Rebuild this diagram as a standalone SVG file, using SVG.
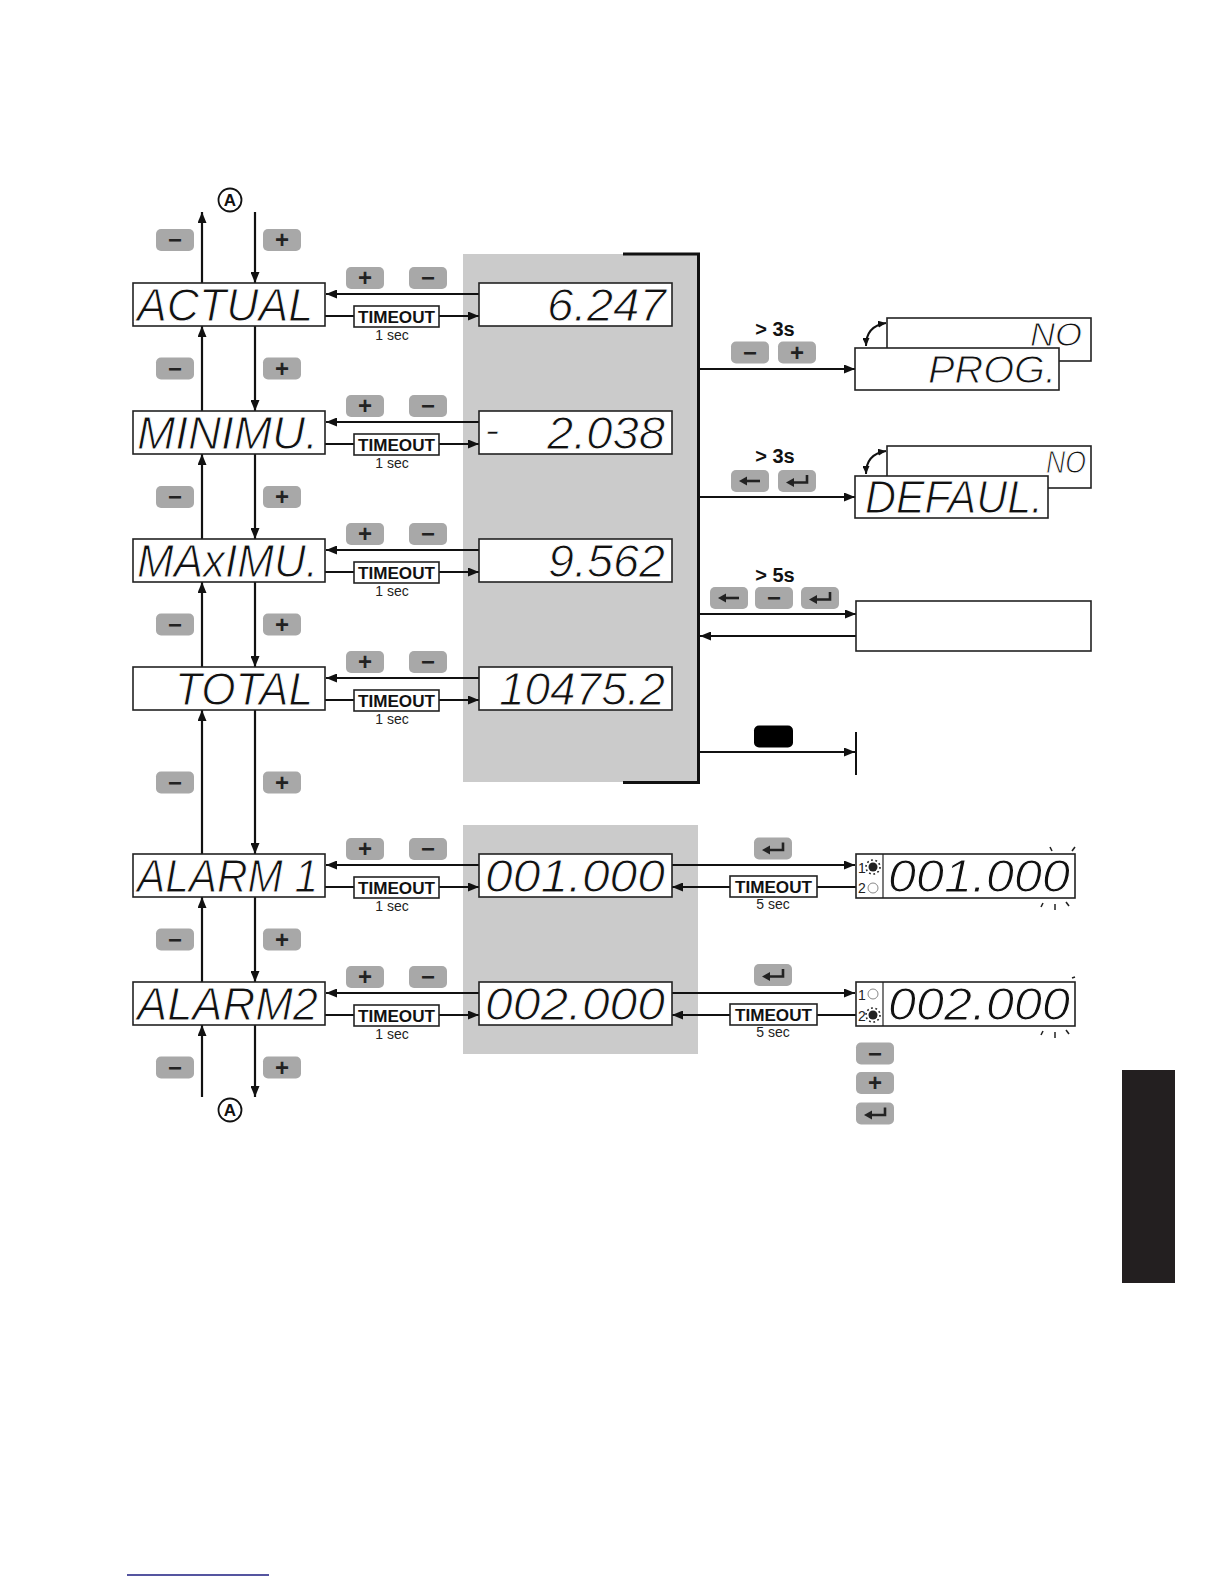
<svg xmlns="http://www.w3.org/2000/svg" xmlns:xlink="http://www.w3.org/1999/xlink" width="1224" height="1584" viewBox="0 0 1224 1584">
<style>
.ln{stroke:#111;stroke-width:2;fill:none}
.vl{stroke:#111;stroke-width:2.2;fill:none}
.box{fill:#fff;stroke:#222;stroke-width:1.6}
.seg{font-family:"Liberation Sans",Arial,sans-serif;font-style:italic;font-size:46px;fill:#111;stroke:#fff;stroke-width:1}
.to{font-family:"Liberation Sans",Arial,sans-serif;font-weight:bold;font-size:17px;text-anchor:middle;fill:#111}
.sec{font-family:"Liberation Sans",Arial,sans-serif;font-size:14px;text-anchor:middle;fill:#222}
.btn{fill:#a8a8a8}
.bt{font-family:"Liberation Sans",Arial,sans-serif;font-weight:bold;font-size:24px;text-anchor:middle;fill:#222}
.t3{font-family:"Liberation Sans",Arial,sans-serif;font-weight:bold;font-size:20px;text-anchor:middle;fill:#111}
.led{font-family:"Liberation Sans",Arial,sans-serif;font-size:14px;fill:#222}
.ca{font-family:"Liberation Sans",Arial,sans-serif;font-weight:bold;font-size:17px;text-anchor:middle;fill:#111}
.tk{stroke:#222;stroke-width:1.5}
</style>
<defs>
<marker id="ah" viewBox="0 0 11 9" refX="11" refY="4.5" markerWidth="11" markerHeight="9" markerUnits="userSpaceOnUse" orient="auto-start-reverse"><path d="M0,0 L11,4.5 L0,9 z" fill="#111"/></marker>
<marker id="ahs" viewBox="0 0 8 7" refX="8" refY="3.5" markerWidth="8" markerHeight="7" markerUnits="userSpaceOnUse" orient="auto-start-reverse"><path d="M0,0 L8,3.5 L0,7 z" fill="#111"/></marker>
<g id="ic-left"><path d="M10,0 H-4" stroke="#222" stroke-width="2.6"/><path d="M-11,0 L-3,-4.5 L-3,4.5 z" fill="#222"/></g>
<g id="ic-enter"><path d="M10,-6 V1.5 H-4" stroke="#222" stroke-width="2.6" fill="none"/><path d="M-11,1.5 L-3,-3 L-3,6 z" fill="#222"/></g>
<g id="led-on"><circle r="4.5" fill="#222"/><circle r="7" fill="none" stroke="#222" stroke-width="1.6" stroke-dasharray="1.8 2.6"/></g>
<g id="led-off"><circle r="5" fill="none" stroke="#888" stroke-width="1"/></g>
</defs>
<rect width="1224" height="1584" fill="#fff"/>

<!-- panels -->
<g id="panels">
<rect x="463" y="254" width="235" height="528" fill="#cbcbcb"/>
<rect x="463" y="825" width="235" height="229" fill="#cbcbcb"/>
<path d="M623,254 H698.5 V782.5 H623" fill="none" stroke="#111" stroke-width="3"/>
</g>

<!-- connectors -->
<g id="connectors">
<line class="vl" x1="202" y1="283" x2="202" y2="212" marker-end="url(#ah)"/>
<line class="vl" x1="255" y1="212" x2="255" y2="283" marker-end="url(#ah)"/>
<line class="vl" x1="202" y1="411" x2="202" y2="326" marker-end="url(#ah)"/>
<line class="vl" x1="255" y1="326" x2="255" y2="411" marker-end="url(#ah)"/>
<line class="vl" x1="202" y1="539" x2="202" y2="454" marker-end="url(#ah)"/>
<line class="vl" x1="255" y1="454" x2="255" y2="539" marker-end="url(#ah)"/>
<line class="vl" x1="202" y1="667" x2="202" y2="582" marker-end="url(#ah)"/>
<line class="vl" x1="255" y1="582" x2="255" y2="667" marker-end="url(#ah)"/>
<line class="vl" x1="202" y1="854" x2="202" y2="710" marker-end="url(#ah)"/>
<line class="vl" x1="255" y1="710" x2="255" y2="854" marker-end="url(#ah)"/>
<line class="vl" x1="202" y1="982" x2="202" y2="897" marker-end="url(#ah)"/>
<line class="vl" x1="255" y1="897" x2="255" y2="982" marker-end="url(#ah)"/>
<line class="vl" x1="202" y1="1097" x2="202" y2="1025" marker-end="url(#ah)"/>
<line class="vl" x1="255" y1="1025" x2="255" y2="1097" marker-end="url(#ah)"/>
<line class="ln" x1="479" y1="294" x2="326" y2="294" marker-end="url(#ah)"/>
<line class="ln" x1="325" y1="316" x2="354" y2="316"/>
<line class="ln" x1="439" y1="316" x2="479" y2="316" marker-end="url(#ah)"/>
<line class="ln" x1="479" y1="422" x2="326" y2="422" marker-end="url(#ah)"/>
<line class="ln" x1="325" y1="444" x2="354" y2="444"/>
<line class="ln" x1="439" y1="444" x2="479" y2="444" marker-end="url(#ah)"/>
<line class="ln" x1="479" y1="550" x2="326" y2="550" marker-end="url(#ah)"/>
<line class="ln" x1="325" y1="572" x2="354" y2="572"/>
<line class="ln" x1="439" y1="572" x2="479" y2="572" marker-end="url(#ah)"/>
<line class="ln" x1="479" y1="678" x2="326" y2="678" marker-end="url(#ah)"/>
<line class="ln" x1="325" y1="700" x2="354" y2="700"/>
<line class="ln" x1="439" y1="700" x2="479" y2="700" marker-end="url(#ah)"/>
<line class="ln" x1="479" y1="865" x2="326" y2="865" marker-end="url(#ah)"/>
<line class="ln" x1="325" y1="887" x2="354" y2="887"/>
<line class="ln" x1="439" y1="887" x2="479" y2="887" marker-end="url(#ah)"/>
<line class="ln" x1="479" y1="993" x2="326" y2="993" marker-end="url(#ah)"/>
<line class="ln" x1="325" y1="1015" x2="354" y2="1015"/>
<line class="ln" x1="439" y1="1015" x2="479" y2="1015" marker-end="url(#ah)"/>
<line class="ln" x1="699" y1="369" x2="855" y2="369" marker-end="url(#ah)"/>
<line class="ln" x1="699" y1="497" x2="855" y2="497" marker-end="url(#ah)"/>
<line class="ln" x1="699" y1="614" x2="856" y2="614" marker-end="url(#ah)"/>
<line class="ln" x1="856" y1="636" x2="700" y2="636" marker-end="url(#ah)"/>
<line class="ln" x1="699" y1="752" x2="855" y2="752" marker-end="url(#ah)"/>
<line x1="856" y1="732" x2="856" y2="775" stroke="#111" stroke-width="2"/>
<path class="ln" d="M866,346 Q866,326 886,323" stroke-width="1.6" marker-start="url(#ahs)" marker-end="url(#ahs)"/>
<path class="ln" d="M866,474 Q866,454 886,451" stroke-width="1.6" marker-start="url(#ahs)" marker-end="url(#ahs)"/>
<line class="ln" x1="672" y1="865" x2="855" y2="865" marker-end="url(#ah)"/>
<line class="ln" x1="856" y1="887" x2="817" y2="887"/>
<line class="ln" x1="730" y1="887" x2="672" y2="887" marker-end="url(#ah)"/>
<line class="ln" x1="672" y1="993" x2="855" y2="993" marker-end="url(#ah)"/>
<line class="ln" x1="856" y1="1015" x2="817" y2="1015"/>
<line class="ln" x1="730" y1="1015" x2="672" y2="1015" marker-end="url(#ah)"/>
</g>

<!-- A markers -->
<g id="a-top"><circle cx="230" cy="200" r="11.5" fill="#fff" stroke="#111" stroke-width="1.8"/><text class="ca" x="230" y="206">A</text></g>
<g id="a-bottom"><circle cx="230" cy="1110" r="11.5" fill="#fff" stroke="#111" stroke-width="1.8"/><text class="ca" x="230" y="1116">A</text></g>

<!-- left column nodes -->
<g id="n-actual"><rect class="box" x="133" y="283" width="192" height="43"/><text class="seg" x="137" y="321" textLength="176" lengthAdjust="spacingAndGlyphs">ACTUAL</text></g>
<g id="n-minimu"><rect class="box" x="133" y="411" width="192" height="43"/><text class="seg" x="137" y="449" textLength="181" lengthAdjust="spacingAndGlyphs">MINIMU.</text></g>
<g id="n-maximu"><rect class="box" x="133" y="539" width="192" height="43"/><text class="seg" x="137" y="577" textLength="181" lengthAdjust="spacingAndGlyphs">MAxIMU.</text></g>
<g id="n-total"><rect class="box" x="133" y="667" width="192" height="43"/><text class="seg" x="175" y="705" textLength="138" lengthAdjust="spacingAndGlyphs">TOTAL</text></g>
<g id="n-alarm1"><rect class="box" x="133" y="854" width="192" height="43"/><text class="seg" x="137" y="892" textLength="181" lengthAdjust="spacingAndGlyphs">ALARM 1</text></g>
<g id="n-alarm2"><rect class="box" x="133" y="982" width="192" height="43"/><text class="seg" x="137" y="1020" textLength="181" lengthAdjust="spacingAndGlyphs">ALARM2</text></g>

<!-- value nodes -->
<g id="v-actual"><rect class="box" x="479" y="283" width="193" height="43"/><text class="seg" x="547" y="321" textLength="119" lengthAdjust="spacingAndGlyphs">6.247</text></g>
<g id="v-minimu"><rect class="box" x="479" y="411" width="193" height="43"/><text class="seg" x="485" y="442" style="font-size:34px;stroke-width:0.5" textLength="14" lengthAdjust="spacingAndGlyphs">-</text><text class="seg" x="547" y="449" textLength="118" lengthAdjust="spacingAndGlyphs">2.038</text></g>
<g id="v-maximu"><rect class="box" x="479" y="539" width="193" height="43"/><text class="seg" x="548" y="577" textLength="117" lengthAdjust="spacingAndGlyphs">9.562</text></g>
<g id="v-total"><rect class="box" x="479" y="667" width="193" height="43"/><text class="seg" x="499" y="705" textLength="166" lengthAdjust="spacingAndGlyphs">10475.2</text></g>
<g id="v-alarm1"><rect class="box" x="479" y="854" width="193" height="43"/><text class="seg" x="485" y="892" textLength="180" lengthAdjust="spacingAndGlyphs">001.000</text></g>
<g id="v-alarm2"><rect class="box" x="479" y="982" width="193" height="43"/><text class="seg" x="485" y="1020" textLength="180" lengthAdjust="spacingAndGlyphs">002.000</text></g>

<!-- timeout labels -->
<g id="to-1"><rect class="box" x="354" y="306" width="85" height="21"/><text class="to" x="396.5" y="322.5" textLength="77" lengthAdjust="spacingAndGlyphs">TIMEOUT</text><text class="sec" x="392" y="340">1 sec</text></g>
<g id="to-2"><rect class="box" x="354" y="434" width="85" height="21"/><text class="to" x="396.5" y="450.5" textLength="77" lengthAdjust="spacingAndGlyphs">TIMEOUT</text><text class="sec" x="392" y="468">1 sec</text></g>
<g id="to-3"><rect class="box" x="354" y="562" width="85" height="21"/><text class="to" x="396.5" y="578.5" textLength="77" lengthAdjust="spacingAndGlyphs">TIMEOUT</text><text class="sec" x="392" y="596">1 sec</text></g>
<g id="to-4"><rect class="box" x="354" y="690" width="85" height="21"/><text class="to" x="396.5" y="706.5" textLength="77" lengthAdjust="spacingAndGlyphs">TIMEOUT</text><text class="sec" x="392" y="724">1 sec</text></g>
<g id="to-5"><rect class="box" x="354" y="877" width="85" height="21"/><text class="to" x="396.5" y="893.5" textLength="77" lengthAdjust="spacingAndGlyphs">TIMEOUT</text><text class="sec" x="392" y="911">1 sec</text></g>
<g id="to-6"><rect class="box" x="354" y="1005" width="85" height="21"/><text class="to" x="396.5" y="1021.5" textLength="77" lengthAdjust="spacingAndGlyphs">TIMEOUT</text><text class="sec" x="392" y="1039">1 sec</text></g>
<g id="to-7"><rect class="box" x="730" y="876" width="87" height="21"/><text class="to" x="773.5" y="892.5" textLength="77" lengthAdjust="spacingAndGlyphs">TIMEOUT</text><text class="sec" x="773" y="909">5 sec</text></g>
<g id="to-8"><rect class="box" x="730" y="1004" width="87" height="21"/><text class="to" x="773.5" y="1020.5" textLength="77" lengthAdjust="spacingAndGlyphs">TIMEOUT</text><text class="sec" x="773" y="1037">5 sec</text></g>

<!-- left column buttons -->
<g id="buttons-left">
<rect class="btn" x="156" y="229" width="38" height="22" rx="5"/><text class="bt" x="175" y="248">−</text>
<rect class="btn" x="263" y="229" width="38" height="22" rx="5"/><text class="bt" x="282" y="248">+</text>
<rect class="btn" x="156" y="357.5" width="38" height="22" rx="5"/><text class="bt" x="175" y="376.5">−</text>
<rect class="btn" x="263" y="357.5" width="38" height="22" rx="5"/><text class="bt" x="282" y="376.5">+</text>
<rect class="btn" x="156" y="486" width="38" height="22" rx="5"/><text class="bt" x="175" y="505">−</text>
<rect class="btn" x="263" y="486" width="38" height="22" rx="5"/><text class="bt" x="282" y="505">+</text>
<rect class="btn" x="156" y="613.5" width="38" height="22" rx="5"/><text class="bt" x="175" y="632.5">−</text>
<rect class="btn" x="263" y="613.5" width="38" height="22" rx="5"/><text class="bt" x="282" y="632.5">+</text>
<rect class="btn" x="156" y="771.5" width="38" height="22" rx="5"/><text class="bt" x="175" y="790.5">−</text>
<rect class="btn" x="263" y="771.5" width="38" height="22" rx="5"/><text class="bt" x="282" y="790.5">+</text>
<rect class="btn" x="156" y="928.5" width="38" height="22" rx="5"/><text class="bt" x="175" y="947.5">−</text>
<rect class="btn" x="263" y="928.5" width="38" height="22" rx="5"/><text class="bt" x="282" y="947.5">+</text>
<rect class="btn" x="156" y="1056.5" width="38" height="22" rx="5"/><text class="bt" x="175" y="1075.5">−</text>
<rect class="btn" x="263" y="1056.5" width="38" height="22" rx="5"/><text class="bt" x="282" y="1075.5">+</text>
</g>

<!-- row buttons -->
<g id="buttons-rows">
<rect class="btn" x="346" y="267" width="38" height="22" rx="5"/><text class="bt" x="365" y="286">+</text>
<rect class="btn" x="409" y="267" width="38" height="22" rx="5"/><text class="bt" x="428" y="286">−</text>
<rect class="btn" x="346" y="395" width="38" height="22" rx="5"/><text class="bt" x="365" y="414">+</text>
<rect class="btn" x="409" y="395" width="38" height="22" rx="5"/><text class="bt" x="428" y="414">−</text>
<rect class="btn" x="346" y="523" width="38" height="22" rx="5"/><text class="bt" x="365" y="542">+</text>
<rect class="btn" x="409" y="523" width="38" height="22" rx="5"/><text class="bt" x="428" y="542">−</text>
<rect class="btn" x="346" y="651" width="38" height="22" rx="5"/><text class="bt" x="365" y="670">+</text>
<rect class="btn" x="409" y="651" width="38" height="22" rx="5"/><text class="bt" x="428" y="670">−</text>
<rect class="btn" x="346" y="838" width="38" height="22" rx="5"/><text class="bt" x="365" y="857">+</text>
<rect class="btn" x="409" y="838" width="38" height="22" rx="5"/><text class="bt" x="428" y="857">−</text>
<rect class="btn" x="346" y="966" width="38" height="22" rx="5"/><text class="bt" x="365" y="985">+</text>
<rect class="btn" x="409" y="966" width="38" height="22" rx="5"/><text class="bt" x="428" y="985">−</text>
</g>

<!-- right side buttons and labels -->
<g id="buttons-right">
<text class="t3" x="775" y="336">&gt; 3s</text>
<rect class="btn" x="731" y="341.5" width="38" height="22" rx="5"/><text class="bt" x="750" y="360.5">−</text>
<rect class="btn" x="778" y="341.5" width="38" height="22" rx="5"/><text class="bt" x="797" y="360.5">+</text>
<text class="t3" x="775" y="463">&gt; 3s</text>
<rect class="btn" x="731" y="470" width="38" height="22" rx="5"/><use xlink:href="#ic-left" href="#ic-left" x="750" y="481"/>
<rect class="btn" x="778" y="470" width="38" height="22" rx="5"/><use xlink:href="#ic-enter" href="#ic-enter" x="797" y="481"/>
<text class="t3" x="775" y="582">&gt; 5s</text>
<rect class="btn" x="710" y="587" width="38" height="22" rx="5"/><use xlink:href="#ic-left" href="#ic-left" x="729" y="598"/>
<rect class="btn" x="755" y="587" width="38" height="22" rx="5"/><text class="bt" x="774" y="606">−</text>
<rect class="btn" x="801" y="587" width="38" height="22" rx="5"/><use xlink:href="#ic-enter" href="#ic-enter" x="820" y="598"/>
<rect x="754" y="725.5" width="39" height="22" rx="5" fill="#000"/>
<rect class="btn" x="754" y="837.5" width="38" height="22" rx="5"/><use xlink:href="#ic-enter" href="#ic-enter" x="773" y="848.5"/>
<rect class="btn" x="754" y="964" width="38" height="22" rx="5"/><use xlink:href="#ic-enter" href="#ic-enter" x="773" y="975"/>
<rect class="btn" x="856" y="1042.5" width="38" height="22" rx="5"/><text class="bt" x="875" y="1061.5">−</text>
<rect class="btn" x="856" y="1072" width="38" height="22" rx="5"/><text class="bt" x="875" y="1091">+</text>
<rect class="btn" x="856" y="1102.5" width="38" height="22" rx="5"/><use xlink:href="#ic-enter" href="#ic-enter" x="875" y="1113.5"/>
</g>

<!-- PROG / NO -->
<g id="n-prog">
<rect class="box" x="887" y="318" width="204" height="43"/>
<text class="seg" x="1030" y="346" style="font-size:34px" textLength="52" lengthAdjust="spacingAndGlyphs">NO</text>
<rect class="box" x="855" y="348" width="204" height="42"/>
<text class="seg" x="928" y="383" style="font-size:39px" textLength="128" lengthAdjust="spacingAndGlyphs">PROG.</text>
</g>
<!-- DEFAUL / NO -->
<g id="n-defaul">
<rect class="box" x="887" y="446" width="204" height="42"/>
<text class="seg" x="1046" y="473" style="font-size:32px" textLength="40" lengthAdjust="spacingAndGlyphs">NO</text>
<rect class="box" x="855" y="476" width="193" height="42"/>
<text class="seg" x="865" y="513" textLength="178" lengthAdjust="spacingAndGlyphs">DEFAUL.</text>
</g>
<g id="n-empty"><rect class="box" x="856" y="601" width="235" height="50"/></g>

<!-- alarm displays -->
<g id="d-alarm1">
<rect class="box" x="856" y="854" width="219" height="44"/>
<line x1="883" y1="854" x2="883" y2="898" stroke="#222" stroke-width="1.2"/>
<text class="led" x="858" y="873">1</text><text class="led" x="858" y="893">2</text>
<use xlink:href="#led-on" href="#led-on" x="873" y="867"/>
<use xlink:href="#led-off" href="#led-off" x="873" y="888"/>
<text class="seg" x="888" y="892" textLength="182" lengthAdjust="spacingAndGlyphs">001.000</text>
<line class="tk" x1="1050" y1="847" x2="1052" y2="851"/><line class="tk" x1="1072" y1="851" x2="1075" y2="847"/>
<line class="tk" x1="1043" y1="903" x2="1041" y2="907"/><line class="tk" x1="1055" y1="904" x2="1055" y2="910"/><line class="tk" x1="1066" y1="902" x2="1069" y2="906"/>
</g>
<g id="d-alarm2">
<rect class="box" x="856" y="982" width="219" height="44"/>
<line x1="883" y1="982" x2="883" y2="1026" stroke="#222" stroke-width="1.2"/>
<text class="led" x="858" y="1000">1</text><text class="led" x="858" y="1021">2</text>
<use xlink:href="#led-off" href="#led-off" x="873" y="994"/>
<use xlink:href="#led-on" href="#led-on" x="873" y="1015"/>
<text class="seg" x="888" y="1020" textLength="182" lengthAdjust="spacingAndGlyphs">002.000</text>
<line class="tk" x1="1072" y1="978" x2="1075" y2="977"/>
<line class="tk" x1="1043" y1="1031" x2="1041" y2="1035"/><line class="tk" x1="1055" y1="1032" x2="1055" y2="1038"/><line class="tk" x1="1066" y1="1030" x2="1069" y2="1034"/>
</g>

<rect x="1122" y="1070" width="53" height="213" fill="#231f20"/>
<line x1="127" y1="1575" x2="269" y2="1575" stroke="#1c1c80" stroke-width="1.5"/>
</svg>
